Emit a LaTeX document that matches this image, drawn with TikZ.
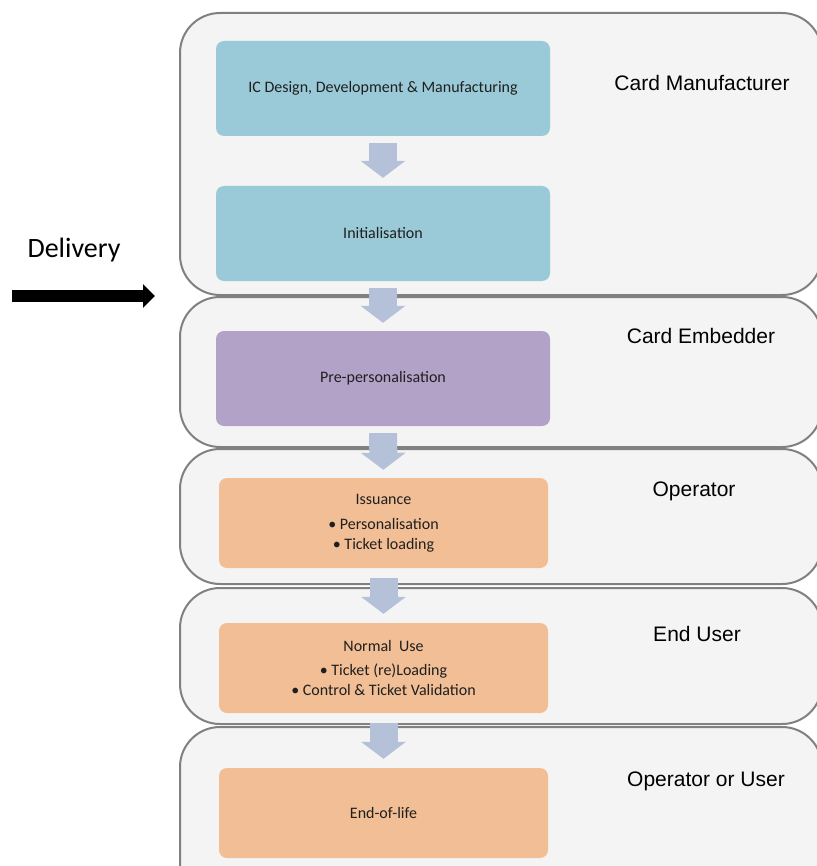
\documentclass[tikz,border=0pt]{standalone}
\usepackage{fontspec}
\setmainfont{Carlito}
\newfontfamily\arialfont{Liberation Sans}
\usepackage{xcolor}
\usepackage{tikz}
\usetikzlibrary{arrows.meta}

\definecolor{lanefill}{HTML}{F4F4F4}
\definecolor{laneline}{HTML}{808080}
\definecolor{tealbox}{HTML}{9ACAD7}
\definecolor{purplebox}{HTML}{B3A2C7}
\definecolor{orangebox}{HTML}{F1BE95}
\definecolor{flowblue}{HTML}{B4C1D9}

\begin{document}
\begin{tikzpicture}[x=1pt,y=-1pt,
		lane/.style={draw=laneline,line width=2pt,fill=lanefill,rounded corners=40pt},
		cardbox/.style={rounded corners=8pt,minimum width=334pt,minimum height=95pt,align=center,text=black!88,font=\fontsize{16}{20}\selectfont},
		userbox/.style={cardbox,fill=orangebox,minimum width=329pt,minimum height=90pt},
		role/.style={anchor=base,font=\arialfont\fontsize{21}{25}\selectfont},
		flow/.style={draw=flowblue,line width=28pt,-{Triangle[width=44pt,length=17pt]},shorten <=7pt,shorten >=8pt}]
		\useasboundingbox (0,0) rectangle (816,866);
		% lanes
		\draw[lane] (180,13) rectangle (822,295);
		\draw[lane] (180,297) rectangle (822,447);
		\draw[lane] (180,449) rectangle (822,584);
		\draw[lane] (180,588) rectangle (822,724);
		\draw[lane] (180,727) rectangle (822,910);
		\node[role] (manufacturer) at (702,91) {Card Manufacturer};
		\node[role] (embedder) at (701,343) {Card Embedder};
		\node[role] (operator) at (694,496) {Operator};
		\node[role] (enduser) at (697,641) {End User};
		\node[role] (operatoruser) at (706,786) {Operator or User};
		% steps
		\node[cardbox,fill=tealbox] (icdesign) at (383,88.5) {IC Design, Development \& Manufacturing};
		\node[cardbox,fill=tealbox] (init) at (383,233.5) {Initialisation};
		\node[cardbox,fill=purplebox] (preperso) at (383,378.5) {Pre-personalisation};
		\node[userbox] (issuance) at (383.5,523) {Issuance\\[5pt]• Personalisation\\• Ticket loading};
		\node[userbox] (normaluse) at (383.5,668) {Normal\ \ Use\\[4pt]• Ticket (re)Loading\\• Control \& Ticket Validation};
		\node[userbox] (endoflife) at (383.5,813) {End-of-life};
		\draw[flow] (icdesign) -- (init);
		\draw[flow] (init) -- (preperso);
		\draw[flow] (preperso) -- (issuance);
		\draw[flow,shorten <=10pt,shorten >=9pt] (issuance) -- (normaluse);
		\draw[flow,shorten <=10pt,shorten >=9pt] (normaluse) -- (endoflife);
		% delivery
		\node[anchor=base,font=\fontsize{28}{32}\selectfont] (delivery) at (74,258) {Delivery};
		\coordinate (deliverystart) at (12,296);
		\coordinate (deliveryend) at (155,296);
		\draw[line width=12pt,-{Triangle[width=23pt,length=12pt]}] (deliverystart) -- (deliveryend);
	\end{tikzpicture}
\end{document}
